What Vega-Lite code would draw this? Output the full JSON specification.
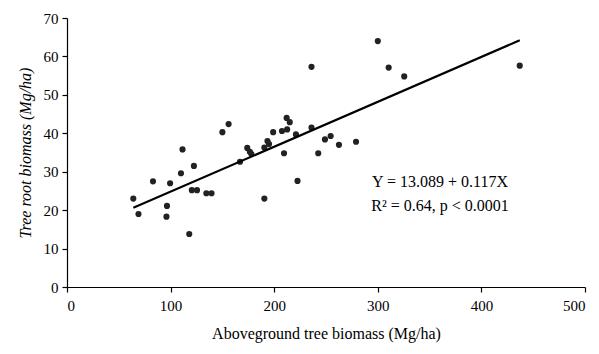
{
  "$schema": "https://vega.github.io/schema/vega-lite/v6.json",
  "width": 518,
  "height": 269,
  "autosize": {"type": "none"},
  "padding": {"left": 67, "top": 18, "right": 14, "bottom": 67},
  "background": "white",
  "config": {
    "view": {"stroke": null},
    "font": "Liberation Serif",
    "axis": {
      "grid": false,
      "domainColor": "black",
      "tickColor": "black",
      "labelColor": "black",
      "titleColor": "black",
      "labelFont": "Liberation Serif",
      "titleFont": "Liberation Serif",
      "labelFontSize": 15,
      "titleFontSize": 16,
      "titleFontWeight": "normal",
      "labelOverlap": false,
      "tickSize": 5,
      "domainWidth": 1.2,
      "tickWidth": 1.2
    }
  },
  "datasets": {
    "pts": [
      {"agb": 64, "root": 23}, {"agb": 69, "root": 19}, {"agb": 83, "root": 27.5},
      {"agb": 96.5, "root": 21.1}, {"agb": 96, "root": 18.3}, {"agb": 99.5, "root": 27},
      {"agb": 110, "root": 29.6}, {"agb": 111.5, "root": 35.8}, {"agb": 118, "root": 13.8},
      {"agb": 122.5, "root": 31.5}, {"agb": 120.5, "root": 25.2}, {"agb": 125.5, "root": 25.2},
      {"agb": 134.5, "root": 24.4}, {"agb": 139.5, "root": 24.4}, {"agb": 150, "root": 40.3},
      {"agb": 156, "root": 42.4}, {"agb": 167, "root": 32.6}, {"agb": 174, "root": 36.2},
      {"agb": 176.5, "root": 35.2}, {"agb": 178, "root": 34.6}, {"agb": 190.5, "root": 23},
      {"agb": 190.5, "root": 36.3}, {"agb": 193.5, "root": 38}, {"agb": 195, "root": 37.2},
      {"agb": 199, "root": 40.3}, {"agb": 207.5, "root": 40.6}, {"agb": 209.5, "root": 34.8},
      {"agb": 212, "root": 44}, {"agb": 215, "root": 42.9}, {"agb": 212.5, "root": 41},
      {"agb": 221, "root": 39.7}, {"agb": 222.5, "root": 27.6}, {"agb": 236, "root": 57.3},
      {"agb": 236, "root": 41.5}, {"agb": 242.5, "root": 34.8}, {"agb": 249, "root": 38.4},
      {"agb": 254.5, "root": 39.3}, {"agb": 262.5, "root": 37}, {"agb": 279, "root": 37.8},
      {"agb": 300, "root": 64}, {"agb": 310.5, "root": 57.1}, {"agb": 325.5, "root": 54.8},
      {"agb": 437, "root": 57.6}
    ],
    "fit": [
      {"agb": 64, "root": 20.6},
      {"agb": 437, "root": 64.2}
    ],
    "notes": [
      {"agb": 360, "root": 27.3, "label": "Y = 13.089 + 0.117X"},
      {"agb": 360, "root": 21.0, "label": "R² = 0.64, p < 0.0001"}
    ]
  },
  "encoding": {
    "x": {
      "field": "agb", "type": "quantitative",
      "scale": {"domain": [0, 500], "nice": false, "zero": true},
      "axis": {"values": [0, 100, 200, 300, 400, 500], "title": "Aboveground tree biomass (Mg/ha)", "titlePadding": 12, "labelPadding": 6}
    },
    "y": {
      "field": "root", "type": "quantitative",
      "scale": {"domain": [0, 70], "nice": false},
      "axis": {"values": [0, 10, 20, 30, 40, 50, 60, 70], "tickCount": 8, "title": "Tree root biomass  (Mg/ha)", "titleFontStyle": "italic", "titlePadding": 10, "labelPadding": 4}
    }
  },
  "layer": [
    {
      "data": {"name": "pts"},
      "mark": {"type": "circle", "color": "#222222", "opacity": 1, "size": 38}
    },
    {
      "data": {"name": "fit"},
      "mark": {"type": "line", "color": "black", "strokeWidth": 2.2}
    },
    {
      "data": {"name": "notes"},
      "mark": {"type": "text", "font": "Liberation Serif", "fontSize": 16, "color": "black", "align": "center", "baseline": "middle"},
      "encoding": {
        "text": {"field": "label"}
      }
    }
  ]
}
